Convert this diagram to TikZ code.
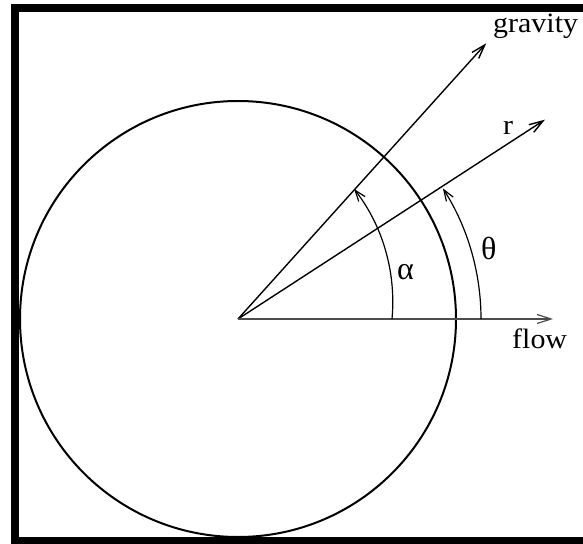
\documentclass[tikz,border=0pt]{standalone}
\usepackage{fontspec}
\setmainfont[FakeStretch=1.07]{Liberation Serif}
\newfontfamily\greekfont{Liberation Serif}
\usetikzlibrary{arrows.meta}

\begin{document}
\begin{tikzpicture}[x=1pt, y=1pt,
    vec/.style={line width=1.4pt, -{Straight Barb[length=14pt, width=9pt]}},
    angarc/.style={line width=1.2pt, -{Straight Barb[length=11pt, width=8pt]}},
    lbl/.style={inner sep=0pt, anchor=base west, font=\fontsize{28}{32}\selectfont},
    glbl/.style={inner sep=0pt, anchor=base west, font=\greekfont\fontsize{32}{36}\selectfont}]
  \useasboundingbox (-238,-224) rectangle (345,319);
  \clip (-238,-224) rectangle (345,319);
  \draw[line width=8pt] (-223,-222) rectangle (380,311);

  \coordinate (O) at (0,0);
  \draw[line width=2pt] (O) circle[radius=218];

  \coordinate (gtip) at (48:371);
  \coordinate (rtip) at (33:366);
  \coordinate (ftip) at (315,0);
  \draw[vec] (O) -- (gtip);
  \draw[vec] (O) -- (rtip);
  \draw[vec, black!70, line width=1.2pt] (O) -- (ftip);

  \coordinate (a0) at (154,0);
  \coordinate (t0) at (243,0);
  \draw[angarc] (a0) arc[start angle=-5.3, end angle=37.8, radius=184.4];
  \draw[angarc] (t0) arc[start angle=0, end angle=32.5, radius=243];

  \node[lbl] (grav) at (255,286) {gravity};
  \node[lbl] (rlab) at (265,184) {r};
  \node[lbl] (flow) at (274,-29) {flow};
  \node[glbl] (theta) at (243,59) {θ};
  \node[glbl] (alpha) at (159,39) {α};
\end{tikzpicture}
\end{document}
